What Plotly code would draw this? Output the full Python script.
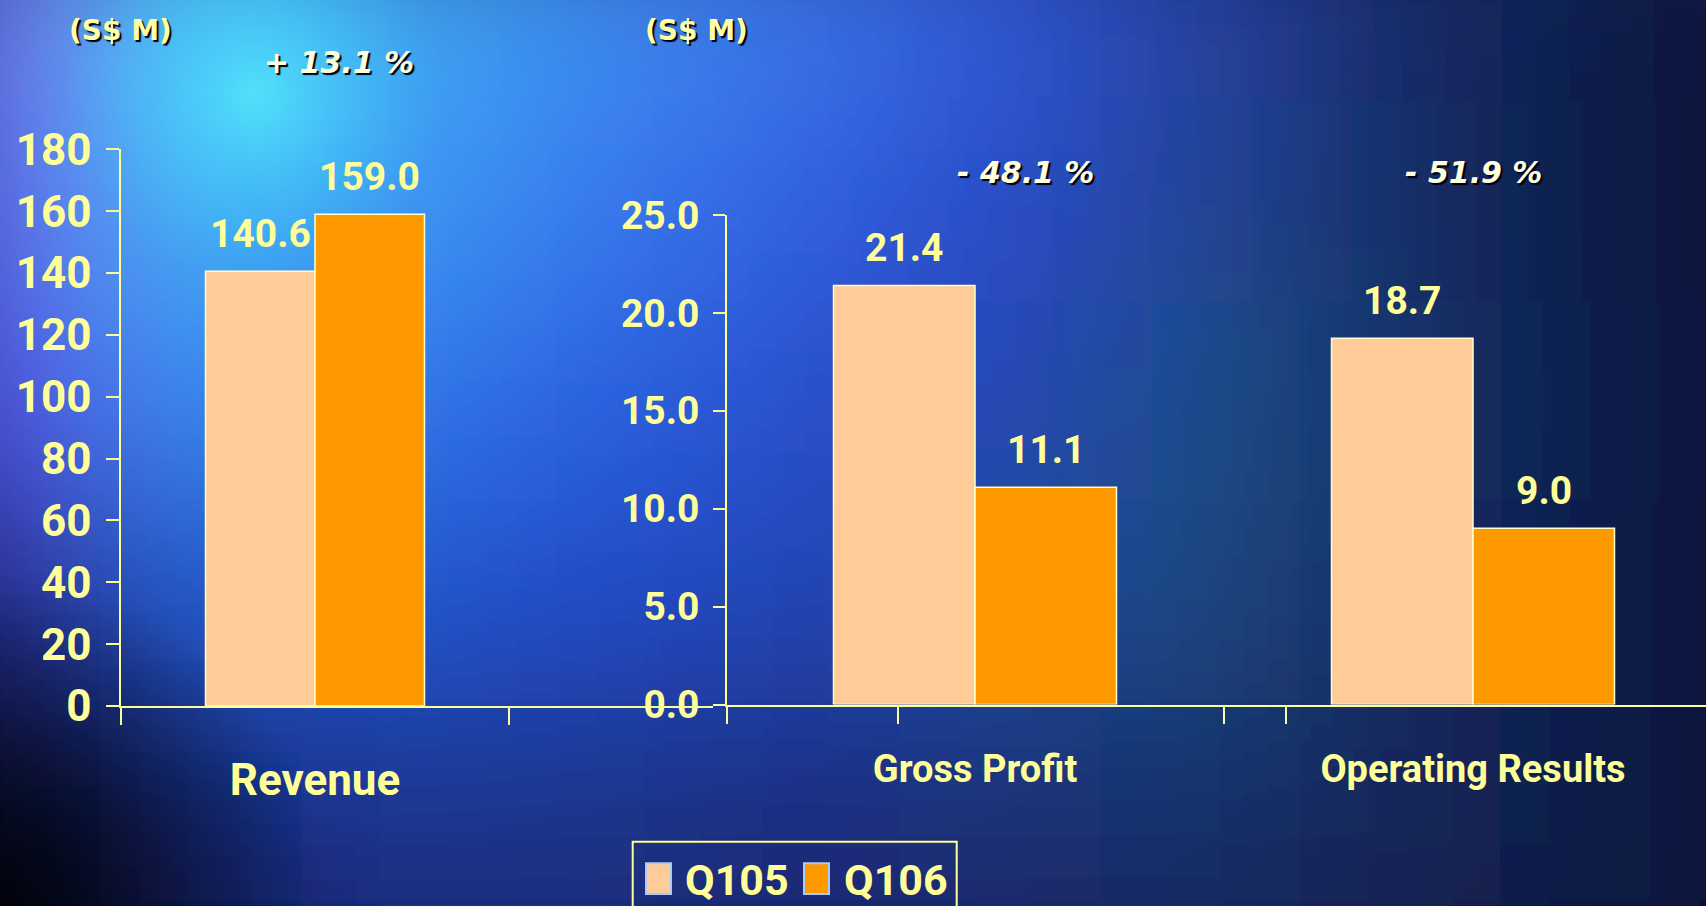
import base64
import plotly.graph_objects as go

W, H = 1706, 906

# ---------------- data ----------------
categories = ["Revenue", "Gross Profit", "Operating Results"]
series_names = ["Q105", "Q106"]
q105 = [140.6, 21.4, 18.7]
q106 = [159.0, 11.1, 9.0]
changes = ["+ 13.1 %", "- 48.1 %", "- 51.9 %"]
revenue_ticks = [0, 20, 40, 60, 80, 100, 120, 140, 160, 180]
profit_ticks = [0, 5, 10, 15, 20, 25]
unit_label = "(S$ M)"

# ---------------- style ----------------
BAR_COLORS = ["#FFCC99", "#FF9900"]
TXT = "#FFFF99"
FONT = "Roboto"
PCT_COLOR = "#FFFFDD"
SHADOW = "2px 2px 1px #000010"

def pxx(p):
    return p / W

def pxy(p):
    return 1 - p / H

# panel geometry in pixels
panels = [
    dict(xd=(121, 713), c=315, u=388, yd=(706, 149.3), yr=(0, 180), bar_px=109.5,
         minor_px=[121, 509], tick_size=44, cat_size=44, standoff=34, show_y=True,
         yticks=revenue_ticks, yfmt="d", ylen=13, ystand=6),
    dict(xd=(727, 1287), c=975, u=497, yd=(704.5, 215), yr=(0, 25), bar_px=141.5,
         minor_px=[727, 898, 1224, 1286], tick_size=39, cat_size=38, standoff=30, show_y=True,
         yticks=profit_ticks, yfmt=".1f", ylen=12, ystand=6),
    dict(xd=(1287, 1706), c=1473, u=497, yd=(704.5, 215), yr=(0, 25), bar_px=141.5,
         minor_px=[], tick_size=39, cat_size=38, standoff=30, show_y=False,
         yticks=profit_ticks, yfmt=".1f", ylen=12, ystand=6),
]

# ---------------- background (blurred colour field) ----------------
bg_rows = [
    ["#7070f0", "#48c8f8", "#40a8f4", "#3c8cf0", "#3a74ea", "#3258d6", "#2642a0", "#182c68", "#101c48", "#0a1032"],
    ["#6468ee", "#40b4f6", "#3c98f2", "#3878ee", "#3260e0", "#2c4cc8", "#224494", "#182e66", "#101c46", "#0a1030"],
    ["#5450e4", "#3488ee", "#3074ea", "#2c60e0", "#2a50cc", "#2646b4", "#1f5088", "#18306a", "#0f1c48", "#0a1030"],
    ["#28288a", "#2456c8", "#2454cc", "#2448c4", "#2444b4", "#1f4a9c", "#1c4680", "#162c64", "#0f1a48", "#0a1032"],
    ["#080a28", "#162c80", "#1a3690", "#1a3488", "#1a2e80", "#1a3078", "#18306c", "#142658", "#0f1a46", "#0a1030"],
    ["#03040f", "#0e1a58", "#162870", "#182870", "#182468", "#182460", "#152058", "#121a4c", "#0e1640", "#0a1030"],
]
rects = []
for r, row in enumerate(bg_rows):
    for c, col in enumerate(row):
        rects.append(f"<rect x='{c*200-100}' y='{r*200-100}' width='200' height='200' fill='{col}'/>")
svg = f"""<svg xmlns='http://www.w3.org/2000/svg' width='{W}' height='{H}' viewBox='0 0 {W} {H}'>
<defs>
<filter id='b' filterUnits='userSpaceOnUse' x='-400' y='-400' width='2600' height='1800'>
<feGaussianBlur stdDeviation='85'/></filter>
<radialGradient id='cy' cx='255' cy='95' r='190' gradientUnits='userSpaceOnUse'>
<stop offset='0' stop-color='#52e6fc' stop-opacity='0.9'/>
<stop offset='1' stop-color='#40b8f6' stop-opacity='0'/></radialGradient>
<radialGradient id='dk' cx='0' cy='906' r='330' gradientUnits='userSpaceOnUse'>
<stop offset='0' stop-color='#010208' stop-opacity='0.95'/>
<stop offset='1' stop-color='#050820' stop-opacity='0'/></radialGradient>
</defs>
<rect width='{W}' height='{H}' fill='#101a50'/>
<g filter='url(#b)'>{''.join(rects)}</g>
<rect width='{W}' height='{H}' fill='url(#cy)'/>
<rect width='{W}' height='{H}' fill='url(#dk)'/>
</svg>"""
bg_src = "data:image/svg+xml;base64," + base64.b64encode(svg.encode()).decode()

# ---------------- figure ----------------
fig = go.Figure()
layout = dict(
    width=W, height=H, margin=dict(l=0, r=0, t=0, b=0), autosize=False,
    template="none", paper_bgcolor="#101a50", plot_bgcolor="rgba(0,0,0,0)",
    showlegend=False, barmode="overlay",
    images=[dict(source=bg_src, xref="paper", yref="paper", x=0, y=1, sizex=1, sizey=1,
                 sizing="stretch", xanchor="left", yanchor="top", layer="below")],
)
annotations = []
shapes = []

for i, p in enumerate(panels):
    k = "" if i == 0 else str(i + 1)
    xa, ya = "x" + k, "y" + k
    u, c = p["u"], p["c"]
    to_data = lambda px, i=i, u=u, c=c: i + (px - c) / u
    w = p["bar_px"] / u
    for s, vals in enumerate([q105, q106]):
        fig.add_trace(go.Bar(
            x=[i], y=[vals[i]], width=[w], offset=[-w if s == 0 else 0],
            name=series_names[s], marker=dict(color=BAR_COLORS[s], line=dict(color="#FFFFCC", width=1.5)),
            xaxis=xa, yaxis=ya, showlegend=False, hoverinfo="name+y"))
        annotations.append(dict(
            x=i + (-w / 2 if s == 0 else w / 2), y=vals[i], xref=xa, yref=ya,
            text=f"{vals[i]:.1f}", showarrow=False, yanchor="bottom", xanchor="center", yshift=12,
            font=dict(family=FONT, size=39, color=TXT, weight="bold")))
    layout["xaxis" + k] = dict(
        domain=[pxx(p["xd"][0]), pxx(p["xd"][1])], range=[to_data(p["xd"][0]), to_data(p["xd"][1])],
        type="linear", anchor=ya, tickmode="array", tickvals=[i], ticktext=[categories[i]],
        ticks="", showline=True, linecolor=TXT, linewidth=2, showgrid=False, zeroline=False,
        tickfont=dict(family=FONT, size=p["cat_size"], color=TXT, weight="bold"),
        ticklabelstandoff=p["standoff"], fixedrange=True,
        minor=dict(tickmode="array", tickvals=[to_data(m) for m in p["minor_px"]], ticks="outside",
                   ticklen=17, tickwidth=2, tickcolor=TXT, showgrid=False),
    )
    layout["yaxis" + k] = dict(
        domain=[pxy(p["yd"][0]), pxy(p["yd"][1])], range=list(p["yr"]), anchor=xa,
        tickmode="array", tickvals=p["yticks"], tickformat=p["yfmt"],
        ticks="outside", ticklen=p["ylen"], tickwidth=2, tickcolor=TXT,
        showline=True, linecolor=TXT, linewidth=1.5, showgrid=False, zeroline=False,
        tickfont=dict(family=FONT, size=p["tick_size"], color=TXT, weight="bold"),
        ticklabelstandoff=p["ystand"], visible=p["show_y"], fixedrange=True,
    )

# percentage change labels
for txt, (cx, cy) in zip(changes, [(339, 62), (1025, 173), (1473, 173)]):
    annotations.append(dict(x=pxx(cx), y=pxy(cy), xref="paper", yref="paper", text=txt,
                            showarrow=False, xanchor="center", yanchor="middle",
                            font=dict(family="DejaVu Sans", size=30, color=PCT_COLOR,
                                      weight="bold", style="italic", shadow=SHADOW)))
# unit labels
for cx, cy in [(120, 31), (696, 31)]:
    annotations.append(dict(x=pxx(cx), y=pxy(cy), xref="paper", yref="paper", text=unit_label,
                            showarrow=False, xanchor="center", yanchor="middle",
                            font=dict(family="DejaVu Sans", size=28, color="#FFFFA8",
                                      weight="bold", shadow=SHADOW)))

# custom legend
shapes.append(dict(type="rect", xref="paper", yref="paper", x0=pxx(632.7), x1=pxx(956.7),
                   y0=pxy(841.7), y1=pxy(915), line=dict(color=TXT, width=2), fillcolor="rgba(0,0,0,0)"))
for s, (sx, tx) in enumerate([(646, 683), (804, 841.7)]):
    shapes.append(dict(type="rect", xref="paper", yref="paper", x0=pxx(sx), x1=pxx(sx + 25),
                       y0=pxy(894), y1=pxy(863.3), fillcolor=BAR_COLORS[s],
                       line=dict(color="#A8CCF4", width=2)))
    annotations.append(dict(x=pxx(tx), y=pxy(880), xref="paper", yref="paper", text=series_names[s],
                            showarrow=False, xanchor="left", yanchor="middle",
                            font=dict(family=FONT, size=43, color=TXT, weight="bold")))

layout["annotations"] = annotations
layout["shapes"] = shapes
fig.update_layout(**layout)
fig.write_html("out.html", config={"displayModeBar": False})
